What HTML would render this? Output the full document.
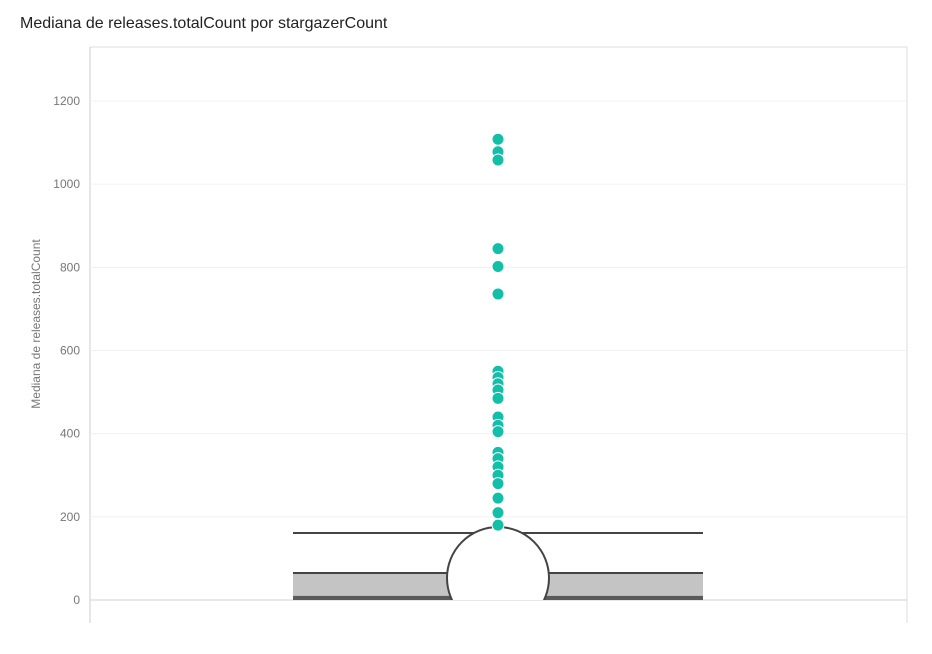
<!DOCTYPE html>
<html><head><meta charset="utf-8"><style>
body{margin:0;background:#fff;font-family:"Liberation Sans",sans-serif}
svg{display:block}
</style></head><body>
<svg id="c" width="932" height="654">
<text x="20" y="28" font-size="16" fill="#222">Mediana de releases.totalCount por stargazerCount</text>
<text transform="translate(40,324) rotate(-90)" text-anchor="middle" font-size="12" fill="#777">Mediana de releases.totalCount</text>
<g id="g"></g>
</svg>
<script>
const yTicks=[0,200,400,600,800,1000,1200];
const whiskerLow=[0];const q1=[2];const median=[10];const q3=[65];const whiskerHigh=[161];
const outliers=[1108,1078,1058,845,802,736,550,535,520,505,485,440,420,405,355,340,320,300,280,245,210,180];
const y=v=>600-v*(499/1200);
const ns="http://www.w3.org/2000/svg",g=document.getElementById('g');
function mk(t,a){const e=document.createElementNS(ns,t);for(const k in a)e.setAttribute(k,a[k]);g.appendChild(e);return e;}
let e;
e=mk('line',{x1:90,y1:47,x2:907,y2:47,stroke:'#ddd'});


e=mk('line',{x1:90,y1:47,x2:90,y2:623,stroke:'#ccc'});


e=mk('line',{x1:907,y1:47,x2:907,y2:623,stroke:'#ddd'});


yTicks.forEach(t=>{
 e=mk('line',{x1:90,x2:907,y1:y(t),y2:y(t),stroke:t==0?'#d0d0d0':'#f0f0f0'});
 
 
 e=mk('text',{x:80,y:y(t)+4,'text-anchor':'end','font-size':12,fill:'#777'});e.textContent=t;
 
 
});
const x0=293,x1=703;
e=mk('rect',{x:x0,y:y(q3[0]),width:x1-x0,height:y(median[0])-y(q3[0]),fill:'#c4c4c4'});


e=mk('rect',{x:x0,y:y(median[0]),width:x1-x0,height:y(whiskerLow[0])-y(median[0]),fill:'#5a5a5a'});


e=mk('line',{x1:x0,x2:x1,y1:y(q3[0]),y2:y(q3[0]),stroke:'#444','stroke-width':2});


e=mk('line',{x1:x0,x2:x1,y1:y(whiskerHigh[0]),y2:y(whiskerHigh[0]),stroke:'#444','stroke-width':2});


const cp=mk('clipPath',{id:'cl'});const cr=document.createElementNS(ns,'rect');
cr.setAttribute('x',90);cr.setAttribute('y',47);cr.setAttribute('width',817);cr.setAttribute('height',553);cp.appendChild(cr);
e=mk('circle',{cx:498,cy:578,r:51,fill:'#fff',stroke:'#444','stroke-width':2,'clip-path':'url(#cl)'});


outliers.forEach(v=>{
 e=mk('circle',{cx:498,cy:y(v),r:6,fill:'#14bfa8',stroke:'#fff','stroke-width':1});
 
 
});
</script>
</body></html>
